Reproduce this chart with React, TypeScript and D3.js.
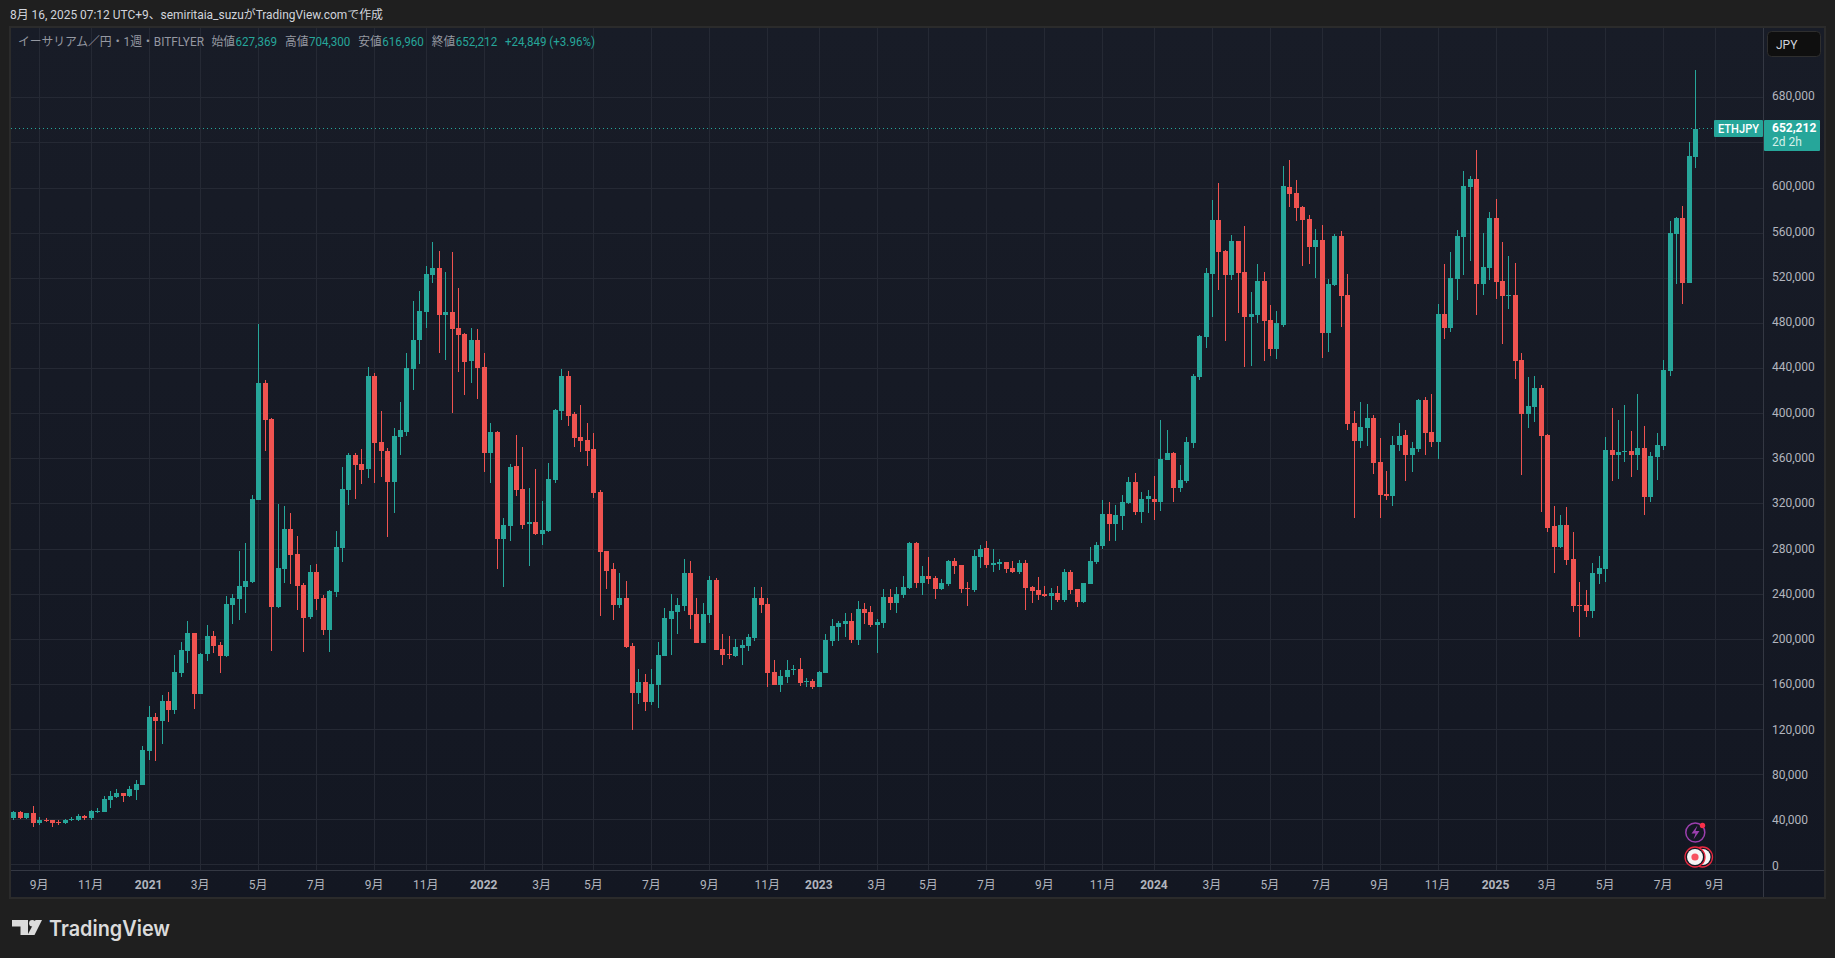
import * as d3 from "d3";
import { useEffect, useRef } from "react";

// weekly ETH/JPY candles, thousands of yen, first week is 2020-08-10
const firstWeek = new Date(Date.UTC(2020, 7, 10));

const opens = [
    41.1,46.4,41.1,45.5,36.6,39.3,39.3,37.5,36.6,39.3,
    39.3,42.8,41.1,46.4,46.4,57.0,59.7,63.2,60.6,65.9,
    70.3,100.5,130.6,127.1,144.8,136.8,169.6,189.1,205.1,151.0,
    186.5,202.4,194.4,184.7,229.9,235.2,245.9,250.3,323.0,426.7,
    394.8,228.1,261.8,297.3,275.1,247.6,219.3,259.2,236.1,207.7,
    241.4,280.4,331.8,362.9,354.9,350.5,432.9,374.4,366.4,338.9,
    378.8,383.3,439.1,464.8,489.6,522.4,528.6,487.0,489.6,475.5,
    470.1,446.2,464.8,440.9,364.6,383.3,288.4,299.9,353.1,332.7,
    301.7,303.5,292.8,295.5,340.7,401.9,432.9,399.2,378.8,376.2,
    368.2,330.1,277.8,261.8,229.9,236.1,193.6,151.9,161.6,143.9,
    159.0,184.7,217.5,223.7,229.0,258.3,221.9,196.2,221.0,252.1,
    190.9,186.5,184.7,191.8,193.6,200.6,236.1,230.8,170.5,159.0,
    166.1,172.6,173.2,161.9,162.5,157.2,169.6,198.0,210.4,213.1,
    215.7,198.9,226.4,223.7,212.2,213.9,237.0,231.7,238.8,245.0,
    284.5,249.4,255.6,253.8,244.1,248.5,268.9,265.4,244.7,243.2,
    272.5,280.4,265.4,266.2,268.0,262.7,259.2,267.1,245.9,243.2,
    239.7,237.9,240.5,234.3,259.2,244.1,232.6,248.5,268.0,282.2,
    310.6,301.7,308.8,320.3,339.0,312.3,323.5,323.9,321.2,358.4,
    364.6,333.6,339.8,373.5,432.0,467.5,523.3,571.2,543.7,522.4,
    552.6,525.1,485.2,487.0,517.1,482.6,456.8,478.1,600.5,595.1,
    582.7,572.1,547.3,553.5,471.0,513.6,557.0,504.7,391.2,375.3,
    386.8,395.7,356.7,328.3,326.5,371.7,380.6,362.9,368.2,411.6,
    383.3,374.4,487.9,475.5,518.9,556.1,600.5,607.5,514.5,528.6,
    573.0,517.1,504.1,504.7,447.1,399.2,405.4,422.3,380.6,299.9,
    281.3,300.8,270.7,229.6,229.9,224.6,257.4,261.8,367.3,362.9,
    365.8,366.4,362.9,369.1,325.6,361.1,370.9,437.3,558.8,573.0,515.4,627.369,
];

const highs = [
    47.3,47.3,45.5,51.7,42.0,41.1,39.3,39.3,40.2,42.0,
    44.6,43.7,48.2,49.9,60.6,65.0,66.8,63.2,69.4,74.8,
    104.9,140.4,134.2,150.1,152.8,185.6,197.1,215.7,205.1,187.3,
    212.2,206.9,197.1,237.9,239.7,277.8,284.9,327.4,479.0,429.4,
    395.7,319.4,317.7,311.5,291.1,249.4,265.4,266.2,238.8,243.2,
    295.5,352.2,364.6,364.6,368.2,440.9,435.6,401.9,369.1,386.8,
    409.9,453.3,499.4,508.3,530.4,551.7,543.7,525.1,542.8,510.9,
    471.0,475.5,474.6,453.3,391.2,384.2,307.0,354.9,380.6,370.0,
    333.6,350.5,322.1,355.8,403.7,439.1,437.3,401.0,407.2,391.2,
    382.4,331.8,277.8,267.1,258.3,251.2,196.2,173.2,168.7,173.2,
    197.1,227.2,239.7,236.1,270.7,268.9,236.1,231.7,255.6,253.8,
    204.2,202.4,199.8,198.9,204.2,245.9,245.9,236.1,181.1,172.3,
    181.1,176.7,182.9,165.2,164.3,171.4,204.2,217.5,215.7,222.8,
    222.8,233.4,231.7,229.0,217.5,244.1,244.1,245.9,255.6,285.5,
    285.5,264.5,272.5,255.6,252.9,269.8,271.6,265.4,250.3,278.7,
    283.1,286.6,279.5,270.7,268.0,268.9,269.8,269.8,246.7,254.7,
    246.7,245.0,246.7,261.8,260.9,244.1,249.4,281.3,285.8,323.0,
    321.2,318.5,327.4,343.0,347.0,330.0,332.0,344.3,393.9,385.0,
    365.5,354.0,378.8,434.7,469.3,528.6,588.9,604.0,544.6,557.9,
    552.6,565.9,507.4,532.2,525.1,495.8,490.5,619.1,624.4,606.7,
    583.6,575.6,563.2,566.8,518.9,558.8,561.5,523.3,401.9,409.9,
    408.1,398.3,377.9,348.7,379.7,391.2,385.0,374.4,412.5,414.3,
    416.9,496.7,532.2,542.8,562.3,614.6,610.2,633.3,559.7,578.3,
    589.8,551.7,539.3,533.1,453.3,432.0,432.9,424.9,381.5,317.7,
    309.7,316.8,294.6,250.3,243.2,267.1,273.3,378.8,404.5,393.9,
    407.2,384.2,416.9,388.6,365.5,382.4,447.1,570.3,573.9,583.6,640.3,704.3,
];

const lows = [
    39.3,40.2,40.2,33.1,34.9,37.5,33.1,34.9,35.8,38.4,
    38.4,39.3,39.3,45.5,46.4,49.9,58.8,55.3,59.7,57.0,
    70.3,92.5,91.6,106.7,126.2,133.3,166.1,178.5,137.7,151.0,
    180.3,187.3,169.6,183.8,213.1,216.6,222.8,249.4,323.0,366.4,
    189.1,227.2,249.4,248.5,225.5,188.2,217.5,225.5,203.3,188.2,
    237.0,268.0,318.5,323.9,337.2,342.5,338.1,343.4,290.2,311.5,
    362.9,379.7,420.5,443.5,475.5,515.4,453.3,447.1,400.1,436.5,
    416.1,426.7,412.5,347.8,338.1,261.8,245.9,286.6,326.5,297.3,
    264.5,292.0,283.1,294.6,338.1,393.9,388.6,370.0,365.5,353.1,
    324.8,220.1,244.1,216.6,227.2,191.8,119.1,142.1,135.9,141.2,
    138.6,184.7,185.6,204.2,224.6,208.6,196.2,196.2,213.9,190.0,
    176.7,182.0,183.8,176.7,189.1,198.0,222.8,157.2,159.0,152.8,
    160.8,167.8,158.1,157.2,155.4,157.2,169.6,193.6,198.0,201.5,
    196.2,194.4,213.1,210.4,187.3,209.5,225.5,222.8,236.1,244.0,
    245.0,238.8,248.5,235.2,243.2,246.7,257.4,240.5,229.0,241.4,
    262.7,262.7,259.2,260.9,258.3,258.3,257.4,225.5,231.7,234.3,
    237.0,225.5,232.6,232.6,239.7,228.1,231.7,248.5,266.2,279.5,
    286.6,286.6,296.4,319.4,310.0,302.6,311.5,305.3,313.2,358.4,
    321.2,330.1,338.1,369.1,429.4,457.7,485.2,509.1,463.9,518.0,
    488.8,440.9,441.8,479.9,446.2,450.6,448.0,476.3,582.7,570.3,
    530.4,532.2,519.8,448.9,454.2,512.7,476.3,385.0,307.0,369.1,
    370.9,346.0,307.0,323.0,317.7,366.4,339.8,347.8,365.5,362.9,
    370.0,359.3,465.7,471.9,500.3,522.4,534.9,487.0,504.7,518.0,
    501.2,461.3,492.3,430.2,345.1,386.8,392.1,312.3,294.6,258.3,
    280.4,265.4,223.7,201.5,219.3,218.4,248.5,250.3,339.8,341.6,
    356.7,343.4,349.6,309.7,321.2,340.7,367.3,432.9,514.5,496.7,515.4,616.96,
];

const closes = [
    46.4,41.1,45.5,36.6,39.3,38.4,36.6,37.2,39.3,39.9,
    42.8,41.1,47.3,47.3,57.9,60.6,63.2,60.6,66.8,71.2,
    101.4,130.6,127.1,144.8,136.8,170.5,190.0,205.1,151.0,186.5,
    202.4,193.6,184.7,230.8,236.1,246.7,251.2,323.9,426.7,393.9,
    228.1,262.7,297.3,274.2,246.7,218.4,259.2,235.2,207.7,242.3,
    281.3,332.7,362.9,354.0,349.6,432.9,373.5,366.4,338.9,379.7,
    385.0,440.0,464.8,490.5,523.3,528.6,487.0,489.6,474.6,469.3,
    445.3,464.8,440.0,364.6,383.3,288.4,300.8,352.2,331.8,300.8,
    303.5,292.8,296.4,341.6,402.8,432.9,397.4,377.9,375.3,366.4,
    329.2,276.9,260.0,229.9,236.1,192.7,151.9,161.6,143.9,159.9,
    185.6,218.4,224.6,229.9,258.3,221.0,196.2,221.9,252.1,190.0,
    185.6,185.9,192.7,194.4,201.5,236.1,229.9,169.6,159.0,167.0,
    172.3,173.2,160.8,162.5,157.2,170.5,198.9,211.3,213.9,215.7,
    198.9,226.4,222.8,212.2,214.8,237.0,231.7,239.7,245.9,284.9,
    249.4,255.6,252.9,244.1,249.4,268.9,264.5,244.1,244.1,273.3,
    279.5,265.4,267.1,268.0,261.8,259.2,267.1,245.0,242.3,238.8,
    237.9,240.5,234.3,259.2,243.2,232.6,249.4,268.9,283.1,310.6,
    301.7,309.7,321.2,339.0,312.3,323.5,327.0,321.2,359.3,364.6,
    333.6,340.7,374.4,432.9,468.4,524.2,571.2,542.8,522.4,552.6,
    524.2,485.2,487.9,517.1,481.7,456.8,479.9,601.3,594.3,581.8,
    571.2,547.3,553.5,471.0,514.5,557.0,503.8,390.4,375.3,387.7,
    395.7,355.8,327.4,326.5,371.7,379.7,362.9,369.1,411.6,382.4,
    374.4,487.9,475.5,519.8,557.0,601.3,607.5,514.5,529.5,573.0,
    516.2,503.8,504.7,446.2,399.2,406.3,422.3,379.7,298.2,281.3,
    300.8,269.8,229.0,229.0,224.6,258.3,262.7,367.3,362.9,365.5,
    366.4,362.9,369.1,325.6,362.0,371.7,438.2,559.7,573.0,515.4,627.9,652.212,
];

const yTicks = [0, 40, 80, 120, 160, 200, 240, 280, 320, 360, 400, 440, 480, 520, 560, 600, 640, 680];
const headerTitle = "イーサリアム／円・1週・BITFLYER";
const ohlcNames = ["始値", "高値", "安値", "終値"];
const ohlcValues = ["627,369", "704,300", "616,960", "652,212"];

const UP = "#26a69a";
const DOWN = "#ef5350";
const FONT = "Roboto, 'Noto Sans CJK JP', sans-serif";
const WIDTH = 1835;
const HEIGHT = 958;

export default function App() {
    const ref = useRef<SVGSVGElement | null>(null);

    useEffect(() => {
        if (!ref.current) return;
        document.body.style.margin = "0";

        const svg = d3.select(ref.current);
        svg.selectAll("*").remove(); // reset

        const weeks = opens.map((_, i) => d3.utcMonday.offset(firstWeek, i));
        const x = d3.scaleUtc().domain([weeks[0], weeks[weeks.length - 1]]).range([13.3, 1695.3]);
        const y = d3.scaleLinear().domain([0, 680]).range([864.4, 97.3]);
        const labelY = d3.scaleLinear().domain([0, 680]).range([865.5, 95.8]);

        // page + pane
        svg.append("rect").attr("width", WIDTH).attr("height", HEIGHT).attr("fill", "#1f1f1f");

        const grad = svg.append("defs").append("linearGradient")
            .attr("id", "pane").attr("x1", 0).attr("x2", 0).attr("y1", 0).attr("y2", 1);
        grad.append("stop").attr("offset", 0).attr("stop-color", "#181c27");
        grad.append("stop").attr("offset", 1).attr("stop-color", "#131722");

        svg.append("rect")
            .attr("x", 10).attr("y", 27).attr("width", 1815).attr("height", 871)
            .attr("fill", "url(#pane)")
            .attr("stroke", "#2b2b2b").attr("stroke-width", 2);

        // grid
        const grid = svg.append("g").attr("stroke", "#252934").attr("stroke-width", 1).attr("shape-rendering", "crispEdges");
        grid.selectAll("line.h").data(yTicks).join("line")
            .attr("class", "h")
            .attr("x1", 11).attr("x2", 1763)
            .attr("y1", d => Math.round(y(d)) + 0.5).attr("y2", d => Math.round(y(d)) + 0.5);

        // first monday of every second month
        const tickDates = d3.utcMonth.range(new Date(Date.UTC(2020, 8, 1)), new Date(Date.UTC(2025, 9, 1)), 2)
            .map(m => d3.utcMonday.ceil(m));

        grid.selectAll("line.v").data(tickDates).join("line")
            .attr("class", "v")
            .attr("y1", 28).attr("y2", 870)
            .attr("x1", d => Math.round(x(d)) + 0.5).attr("x2", d => Math.round(x(d)) + 0.5);

        // axis lines
        const axisLines = svg.append("g").attr("stroke", "#343843").attr("shape-rendering", "crispEdges");
        axisLines.append("line").attr("x1", 1763.5).attr("x2", 1763.5).attr("y1", 28).attr("y2", 897);
        axisLines.append("line").attr("x1", 11).attr("x2", 1824).attr("y1", 870.5).attr("y2", 870.5);

        // last price line goes under the candles
        const lastY = y(closes[closes.length - 1]);
        svg.append("line")
            .attr("x1", 11).attr("x2", 1714).attr("y1", Math.floor(lastY) + 0.5).attr("y2", Math.floor(lastY) + 0.5)
            .attr("stroke", UP).attr("stroke-dasharray", "1 3");

        // candles
        const candles = svg.append("g").attr("shape-rendering", "crispEdges");
        const g = candles.selectAll("g").data(weeks).join("g")
            .attr("fill", (_, i) => (closes[i] >= opens[i] ? UP : DOWN));

        g.append("rect")
            .attr("x", d => Math.round(x(d)))
            .attr("width", 1)
            .attr("y", (_, i) => y(highs[i]))
            .attr("height", (_, i) => y(lows[i]) - y(highs[i]));

        g.append("rect")
            .attr("x", d => Math.round(x(d)) - 2)
            .attr("width", 5)
            .attr("y", (_, i) => y(Math.max(opens[i], closes[i])))
            .attr("height", (_, i) => Math.max(1, Math.abs(y(opens[i]) - y(closes[i]))));

        // y labels, 640,000 sits under the price tag
        const label = d3.format(",");
        svg.append("g").selectAll("text").data(yTicks.filter(d => d !== 640)).join("text")
            .attr("x", 1772).attr("y", d => labelY(d))
            .attr("dominant-baseline", "central")
            .attr("font-family", FONT).attr("font-size", 12).attr("fill", "#b2b5be")
            .text(d => label(d * 1000));

        // x labels
        svg.append("g").selectAll("text").data(tickDates).join("text")
            .attr("x", d => x(d)).attr("y", 885)
            .attr("text-anchor", "middle").attr("dominant-baseline", "central")
            .attr("font-family", FONT).attr("font-size", 12).attr("fill", "#b2b5be")
            .attr("font-weight", d => (d.getUTCMonth() === 0 ? 700 : 400))
            .text(d => (d.getUTCMonth() === 0 ? `${d.getUTCFullYear()}` : `${d.getUTCMonth() + 1}月`));

        // top caption
        svg.append("text")
            .attr("x", 10).attr("y", 14.5).attr("dominant-baseline", "central")
            .attr("font-family", FONT).attr("font-size", 12).attr("fill", "#d1d4dc")
            .attr("textLength", 373).attr("lengthAdjust", "spacingAndGlyphs")
            .text("8月 16, 2025 07:12 UTC+9、semiritaia_suzuがTradingView.comで作成");

        // legend line
        const legend = svg.append("g").attr("font-family", FONT).attr("font-size", 12);
        legend.append("text")
            .attr("x", 18).attr("y", 41.5).attr("dominant-baseline", "central")
            .attr("fill", "#9598a1")
            .attr("textLength", 186).attr("lengthAdjust", "spacingAndGlyphs")
            .text(headerTitle);
        ohlcNames.forEach((name, i) => {
            const left = 211.5 + i * 73.4;
            legend.append("text")
                .attr("x", left).attr("y", 41.5).attr("dominant-baseline", "central")
                .attr("fill", "#9598a1")
                .attr("textLength", 23.5).attr("lengthAdjust", "spacingAndGlyphs").text(name);
            legend.append("text")
                .attr("x", left + 24).attr("y", 41.5).attr("dominant-baseline", "central")
                .attr("fill", UP)
                .attr("textLength", 41.5).attr("lengthAdjust", "spacingAndGlyphs").text(ohlcValues[i]);
        });
        legend.append("text")
            .attr("x", 505).attr("y", 41.5).attr("dominant-baseline", "central")
            .attr("fill", UP)
            .attr("textLength", 90).attr("lengthAdjust", "spacingAndGlyphs").text("+24,849 (+3.96%)");

        // JPY button
        svg.append("rect")
            .attr("x", 1767.5).attr("y", 31.5).attr("width", 53).attr("height", 25).attr("rx", 4)
            .attr("fill", "#0f0f0f").attr("stroke", "#2e2e2e");
        svg.append("text")
            .attr("x", 1776).attr("y", 44.5).attr("dominant-baseline", "central")
            .attr("font-family", FONT).attr("font-size", 12).attr("fill", "#d1d4dc").text("JPY");

        // price tags
        svg.append("rect").attr("x", 1714).attr("y", 120).attr("width", 49).attr("height", 17).attr("rx", 1).attr("fill", UP);
        svg.append("text")
            .attr("x", 1718).attr("y", 128.5).attr("dominant-baseline", "central")
            .attr("font-family", FONT).attr("font-size", 12).attr("font-weight", 500).attr("fill", "#ffffff")
            .attr("textLength", 41).attr("lengthAdjust", "spacingAndGlyphs").text("ETHJPY");
        svg.append("rect").attr("x", 1764).attr("y", 120).attr("width", 56).attr("height", 31).attr("rx", 1).attr("fill", UP);
        svg.append("text")
            .attr("x", 1772).attr("y", 128).attr("dominant-baseline", "central")
            .attr("font-family", FONT).attr("font-size", 12).attr("font-weight", 700).attr("fill", "#ffffff")
            .text(label(652212));
        svg.append("text")
            .attr("x", 1772).attr("y", 142).attr("dominant-baseline", "central")
            .attr("font-family", FONT).attr("font-size", 12).attr("fill", "#d6f0ea").text("2d 2h");

        // bottom markers near the last candle
        const markers = svg.append("g");
        markers.append("circle").attr("cx", 1695.3).attr("cy", 832.5).attr("r", 9.5)
            .attr("fill", "#131722").attr("stroke", "#9c3fae").attr("stroke-width", 1.5);
        markers.append("path").attr("d", "M1697.5 825.5 L1691.5 833.5 H1695.5 L1693.5 839.5 L1699.5 831 H1695.5 Z").attr("fill", "#9c3fae");
        markers.append("circle").attr("cx", 1702.5).attr("cy", 825.5).attr("r", 2.7).attr("fill", "#f7304a");
        [1702.5, 1695].forEach(cx => {
            markers.append("circle").attr("cx", cx).attr("cy", 857).attr("r", 10)
                .attr("fill", "#131722").attr("stroke", "#e8283f").attr("stroke-width", 1.3);
            markers.append("circle").attr("cx", cx).attr("cy", 857).attr("r", 8).attr("fill", "#f5f5f5");
        });
        markers.append("circle").attr("cx", 1695).attr("cy", 857).attr("r", 3.6).attr("fill", "#f7525f");

        // TradingView logo
        const logo = svg.append("g").attr("fill", "#dbdbdb");
        logo.append("path").attr("d", "M12 920 H28 V935 H20.5 V926.5 H12 Z");
        logo.append("circle").attr("cx", 32.3).attr("cy", 923.2).attr("r", 3.2);
        logo.append("path").attr("d", "M35.5 920 H42 L34.5 935 H27.5 Z");
        svg.append("text")
            .attr("x", 49).attr("y", 928).attr("dominant-baseline", "central")
            .attr("font-family", "Inter, sans-serif").attr("font-size", 21).attr("font-weight", 600).attr("fill", "#dbdbdb")
            .attr("textLength", 121).attr("lengthAdjust", "spacingAndGlyphs").text("TradingView");
    }, []);

    return <svg ref={ref} width={WIDTH} height={HEIGHT} style={{ display: "block" }} />;
}
